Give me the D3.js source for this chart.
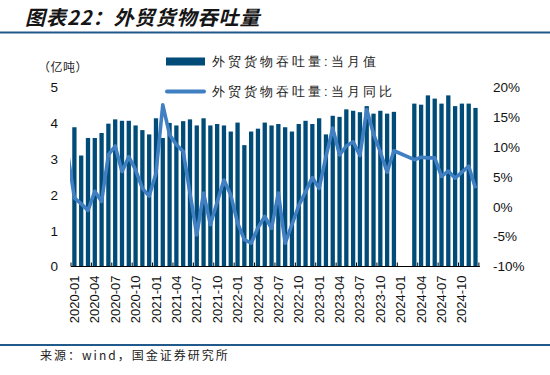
<!DOCTYPE html>
<html>
<head>
<meta charset="utf-8">
<script src="https://cdn.jsdelivr.net/npm/d3@7"></script>
<style>
  body { margin: 0; background: #fff; }
  text { font-family: "Liberation Sans", Arial, sans-serif; }
  .cjk { font-family: "Noto Sans CJK SC", sans-serif; }
</style>
</head>
<body>
<script>
// categories: one leading month (2019-12) only feeds the clipped start of the line
const years = [2020, 2021, 2022, 2023, 2024];
const months = ["2019-12"];
years.forEach(y => d3.range(1, 13).forEach(m => months.push(y + "-" + String(m).padStart(2, "0"))));

// 外贸货物吞吐量:当月值 (亿吨), 2020-01 .. 2024-12
const throughput = [
  3.89, 3.10, 3.59, 3.59, 3.73, 3.99, 4.11, 4.07, 4.07, 3.94, 3.81, 3.69,
  4.14, 3.59, 4.01, 3.94, 4.06, 4.11, 3.94, 4.14, 3.94, 3.98, 3.94, 3.77,
  4.02, 3.39, 3.77, 3.85, 4.02, 3.94, 3.98, 3.89, 3.77, 3.98, 4.07, 3.98,
  4.14, 3.69, 4.21, 4.18, 4.39, 4.35, 4.31, 4.48, 4.27, 4.35, 4.27, 4.32,
  null, null, 4.55, 4.52, 4.78, 4.69, 4.55, 4.78, 4.48, 4.55, 4.55, 4.43
];
// 外贸货物吞吐量:当月同比 (%), 2019-12 .. 2024-12
const yoy = [
  9.0,
  1.5, 0.5, -0.6, 2.6, 0.9, 8.7, 10.2, 5.9, 8.4, 6.2, 3.1, 1.8,
  5.6, 17.1, 12.1, 10.4, 9.3, 2.3, -4.7, 2.3, -3.0, 0.8, 4.5, 2.0,
  -2.7, -5.5, -6.1, -3.5, -1.6, -3.6, 2.3, -6.1, -3.0, 0.2, 2.5, 4.9,
  3.1, 8.4, 13.2, 8.7, 10.2, 10.9, 8.6, 16.3, 12.2, 9.2, 5.8, 9.4,
  null, null, 7.9, 8.3, 8.2, 8.2, 5.1, 6.0, 4.8, 5.8, 6.8, 3.1
];
const leftTicks = [0, 1, 2, 3, 4, 5];
const rightTicks = [-10, -5, 0, 5, 10, 15, 20];
const labelMonths = months.filter(m => m !== "2019-12" && ["01", "04", "07", "10"].includes(m.slice(5)));

const barColor = "#004b77";
const lineColor = "#3f7fc2";
const ruleColor = "#21598a";

const W = 550, H = 375;
const svg = d3.select("body").append("svg").attr("width", W).attr("height", H);

const x = d3.scaleBand().domain(months).range([64.2, 478.9]).paddingInner(0.37).paddingOuter(0.185);
const yL = d3.scaleLinear().domain([0, 5]).range([266.5, 87.5]);
const yR = d3.scaleLinear().domain([-10, 20]).range([266.5, 87.5]);
const cx = m => x(m) + x.bandwidth() / 2;
const edge = m => cx(m) - x.step() / 2;
const plotLeft = edge("2020-01");

// title + rules
svg.append("text").attr("class", "cjk")
  .attr("x", 25).attr("y", 25)
  .attr("font-size", 20).attr("font-weight", "bold").attr("font-style", "italic")
  .attr("letter-spacing", 1).attr("fill", "#151515")
  .text("图表22：外贸货物吞吐量");
svg.append("line").attr("x1", 0).attr("x2", W).attr("y1", 32.5).attr("y2", 32.5)
  .attr("stroke", ruleColor).attr("stroke-width", 2);
svg.append("line").attr("x1", 0).attr("x2", W).attr("y1", 345).attr("y2", 345)
  .attr("stroke", ruleColor).attr("stroke-width", 2);
svg.append("text").attr("class", "cjk")
  .attr("x", 40).attr("y", 360).attr("font-size", 12).attr("letter-spacing", 2).attr("fill", "#222")
  .text("来源：wind，国金证券研究所");

// unit
svg.append("text").attr("class", "cjk")
  .attr("x", 38).attr("y", 72).attr("font-size", 12).attr("letter-spacing", 0.5).attr("fill", "#222")
  .text("（亿吨）");

// clip at plot left
svg.append("clipPath").attr("id", "plot")
  .append("rect").attr("x", plotLeft - 1).attr("y", 0).attr("width", W).attr("height", H);
const g = svg.append("g").attr("clip-path", "url(#plot)");

// bars
const barData = months.slice(1).map((m, i) => ({ m, v: throughput[i] })).filter(d => d.v != null);
g.selectAll("rect.bar").data(barData).join("rect").attr("class", "bar")
  .attr("x", d => x(d.m)).attr("width", x.bandwidth())
  .attr("y", d => yL(d.v)).attr("height", d => yL(0) - yL(d.v))
  .attr("fill", barColor);

// line (gaps bridged)
const lineData = months.map((m, i) => ({ m, v: yoy[i] })).filter(d => d.v != null);
g.append("path").datum(lineData)
  .attr("d", d3.line().x(d => cx(d.m)).y(d => yR(d.v)))
  .attr("fill", "none").attr("stroke", lineColor).attr("stroke-width", 3.6)
  .attr("stroke-linejoin", "round");

// x axis
svg.append("line").attr("x1", plotLeft).attr("x2", x.range()[1] + 1)
  .attr("y1", yL(0)).attr("y2", yL(0)).attr("stroke", "#000").attr("stroke-width", 1.2);
const tickXs = labelMonths.map(edge).concat([x.range()[1]]);
svg.selectAll("line.xt").data(tickXs).join("line").attr("class", "xt")
  .attr("x1", d => d).attr("x2", d => d)
  .attr("y1", yL(0)).attr("y2", yL(0) - 4).attr("stroke", "#000");
svg.selectAll("text.xl").data(labelMonths).join("text").attr("class", "xl")
  .attr("transform", d => `translate(${cx(d)},${yL(0) + 9}) rotate(-90)`)
  .attr("text-anchor", "end").attr("dy", "0.35em")
  .attr("font-size", 13).attr("fill", "#111")
  .text(d => d);

// y axes
const axL = svg.append("g").attr("transform", "translate(62,0)")
  .call(d3.axisLeft(yL).tickValues(leftTicks).tickSize(0).tickPadding(4).tickFormat(d3.format("d")));
const axR = svg.append("g").attr("transform", "translate(489,0)")
  .call(d3.axisRight(yR).tickValues(rightTicks).tickSize(0).tickPadding(4).tickFormat(d => d + "%"));
[axL, axR].forEach(a => {
  a.select(".domain").remove();
  a.selectAll("text").attr("font-size", 13.5).attr("fill", "#111")
    .attr("font-family", "'Liberation Sans', Arial, sans-serif");
});

// legend
const lg = svg.append("g").attr("class", "cjk");
lg.append("rect").attr("x", 166).attr("y", 57.5).attr("width", 39).attr("height", 8).attr("fill", barColor);
lg.append("line").attr("x1", 167).attr("x2", 204).attr("y1", 91.5).attr("y2", 91.5)
  .attr("stroke", lineColor).attr("stroke-width", 4).attr("stroke-linecap", "round");
lg.append("text").attr("x", 212).attr("y", 66).attr("font-size", 13).attr("letter-spacing", 3)
  .attr("fill", "#222").text("外贸货物吞吐量:当月值");
lg.append("text").attr("x", 212).attr("y", 96).attr("font-size", 13).attr("letter-spacing", 3)
  .attr("fill", "#222").text("外贸货物吞吐量:当月同比");
</script>
</body>
</html>
